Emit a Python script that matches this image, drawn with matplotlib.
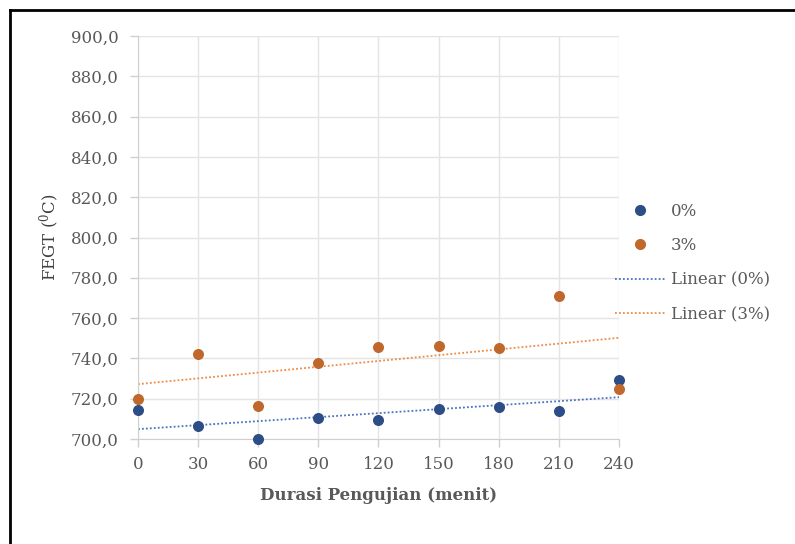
import numpy as np
import matplotlib
matplotlib.use('Agg')
import matplotlib.pyplot as plt
from matplotlib.lines import Line2D
from matplotlib.ticker import FuncFormatter

# durasi pengujian (menit)
durasi = [0, 30, 60, 90, 120, 150, 180, 210, 240]
# FEGT values
fegt_0 = [714.5, 706.5, 700.0, 710.5, 709.5, 715.0, 716.0, 714.0, 729.5]
fegt_3 = [720.0, 742.0, 716.5, 737.5, 745.5, 746.0, 745.0, 771.0, 725.0]

c_blue = '#2d4d87'
c_orange = '#c0682c'
c_blue_trend = '#4a72c0'
c_orange_trend = '#ed8a45'
c_text = '#595959'

plt.rcParams['font.family'] = ['DejaVu Serif']
plt.rcParams['mathtext.fontset'] = 'dejavuserif'

fig = plt.figure(figsize=(7.95, 5.44), dpi=100)
ax = fig.add_axes([0.1736, 0.193, 0.605, 0.7408])

x = np.array(durasi, dtype=float)
ax.scatter(x, fegt_0, s=48, color=c_blue, zorder=3, clip_on=False)
ax.scatter(x, fegt_3, s=48, color=c_orange, zorder=3, clip_on=False)

# linear trendlines
xs = np.array([0, 240])
for ys, col in [(fegt_0, c_blue_trend), (fegt_3, c_orange_trend)]:
    k, b = np.polyfit(x, ys, 1)
    ax.plot(xs, k * xs + b, linestyle=(0, (1, 1.2)), color=col, linewidth=1.3, zorder=2)

ax.set_xlim(0, 240)
ax.set_ylim(700, 900)
ax.set_xticks(durasi)
ax.set_yticks(np.arange(700, 901, 20))
ax.yaxis.set_major_formatter(FuncFormatter(lambda v, p: f"{v:.1f}".replace('.', ',')))
ax.grid(True, color='#e4e4e4', linewidth=1)
ax.set_axisbelow(True)
for s in ['top', 'right']:
    ax.spines[s].set_visible(False)
for s in ['left', 'bottom']:
    ax.spines[s].set_color('#d0d0d0')
ax.tick_params(colors='#d0d0d0', labelcolor=c_text, labelsize=12, length=6, width=1)
ax.tick_params(axis='x', pad=6)
ax.tick_params(axis='y', pad=8)

ax.set_xlabel('Durasi Pengujian (menit)', fontsize=12, fontweight='bold', color=c_text, labelpad=10)
ax.set_ylabel('FEGT ($\\mathregular{^{0}}$C)', fontsize=12, color='#404040', labelpad=6)

handles = [
    Line2D([], [], marker='o', linestyle='none', color=c_blue, markersize=7),
    Line2D([], [], marker='o', linestyle='none', color=c_orange, markersize=7),
    Line2D([], [], linestyle=(0, (1, 1.2)), color=c_blue_trend, linewidth=1.3),
    Line2D([], [], linestyle=(0, (1, 1.2)), color=c_orange_trend, linewidth=1.3),
]
labels = ['0%', '3%', 'Linear (0%)', 'Linear (3%)']
leg = fig.legend(handles, labels, loc='upper left', bbox_to_anchor=(0.755, 0.655),
                 frameon=False, fontsize=12, labelspacing=1.05, handlelength=3.0,
                 handletextpad=0.35)
for t in leg.get_texts():
    t.set_color(c_text)

# frame lines of the original picture (left and top)
fig.add_artist(Line2D([0.0126, 0.0126], [0, 0.982], transform=fig.transFigure, color='black', linewidth=2))
fig.add_artist(Line2D([0.0126, 1.0], [0.982, 0.982], transform=fig.transFigure, color='black', linewidth=2))

fig.savefig('out.png', dpi=100)
